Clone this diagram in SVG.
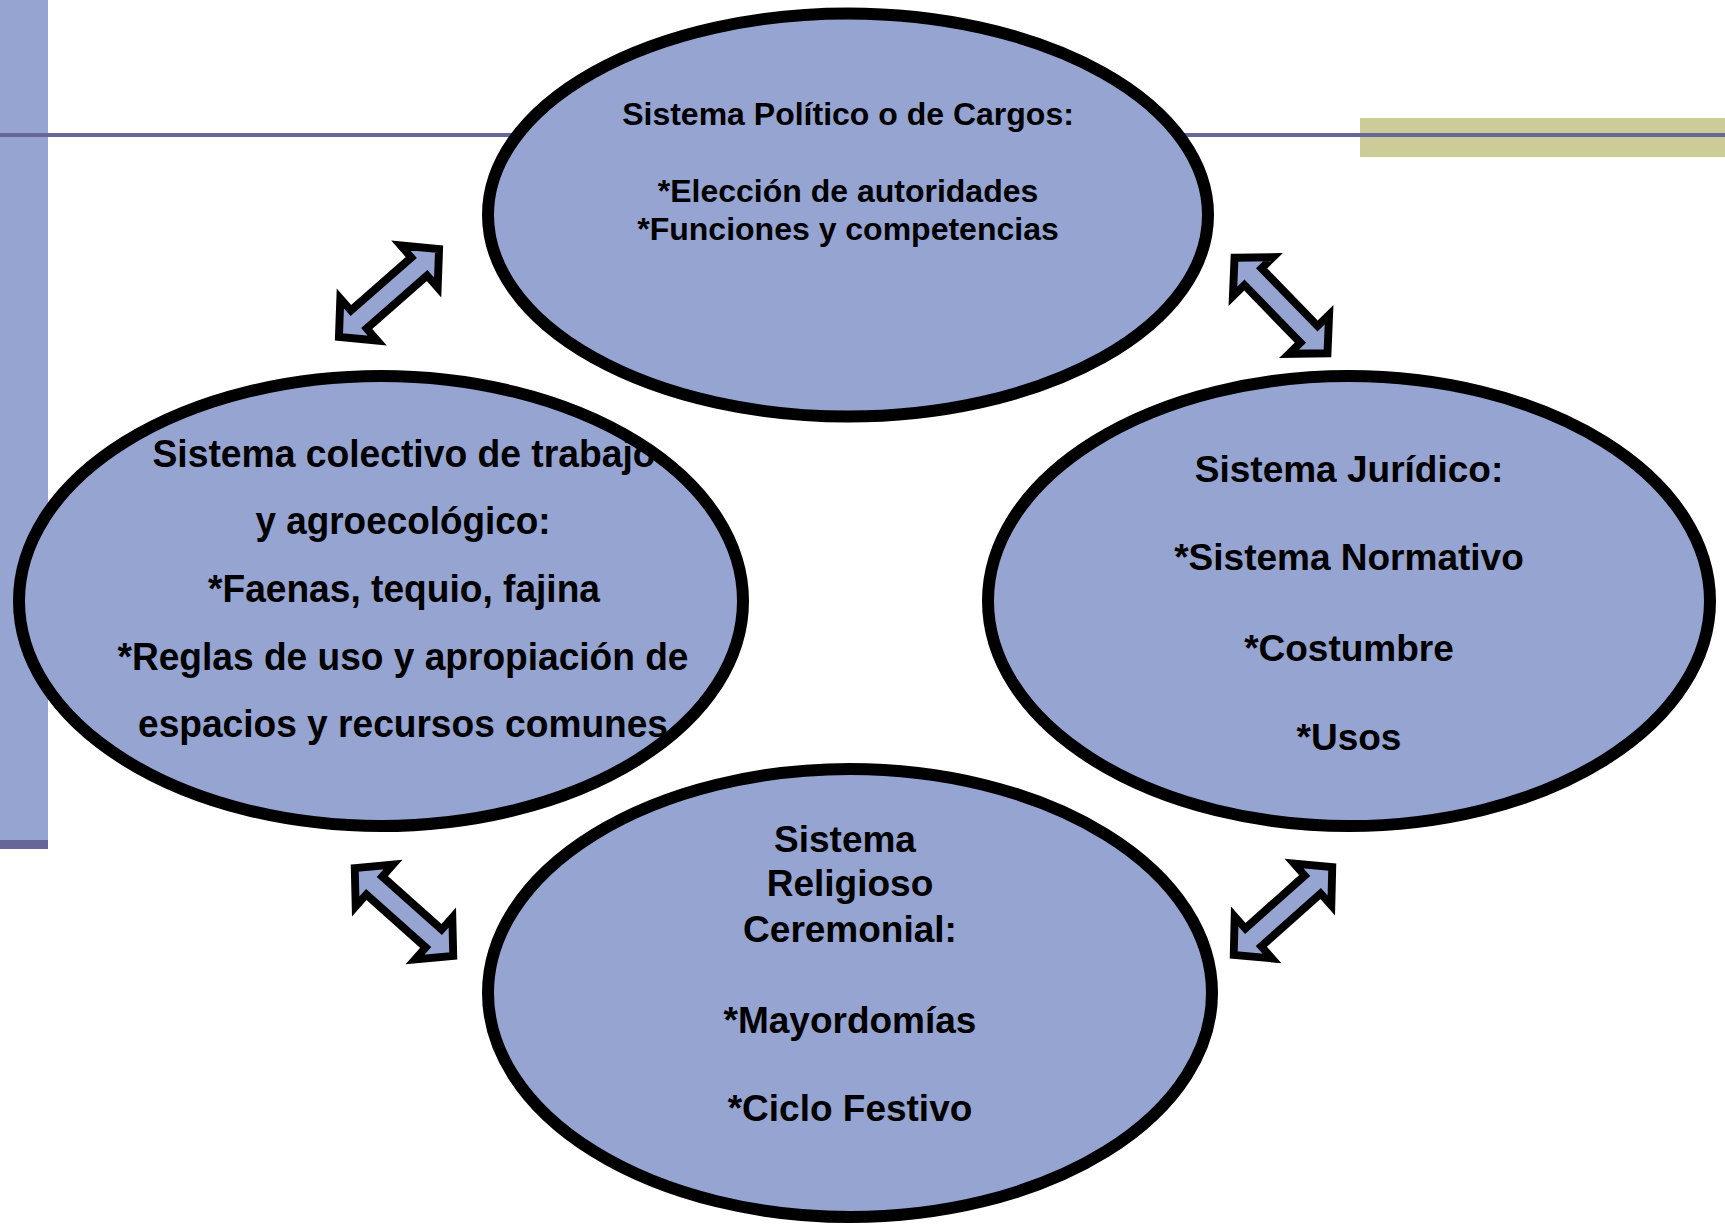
<svg xmlns="http://www.w3.org/2000/svg" xmlns:xlink="http://www.w3.org/1999/xlink" width="1725" height="1225" viewBox="0 0 1725 1225">
  <style>
    .fill { fill: #95A4D1; stroke: none; }
    .edge { fill: none; stroke: #000; stroke-width: 12; }
    .t { font-family: "Liberation Sans", Arial, sans-serif; font-weight: bold; fill: #000; text-anchor: middle; }
    .arrow { fill: #95A4D1; stroke: #000; stroke-width: 8; stroke-linejoin: miter; stroke-miterlimit: 4; }
  </style>
  <defs>
    <path id="dbl" d="M-68,0 L-41,-28 L-41,-12 L41,-12 L41,-28 L68,0 L41,28 L41,12 L-41,12 L-41,28 Z"/>
  </defs>
  <rect width="1725" height="1225" fill="#fff"/>
  <g id="background">
    <rect x="0" y="0" width="48" height="840" fill="#95A4D1"/>
    <rect x="0" y="840" width="48" height="9" fill="#666699"/>
    <rect x="1360" y="118" width="365" height="39" fill="#CCCC99"/>
    <rect x="0" y="133" width="1725" height="4" fill="#666699"/>
  </g>
  <g id="node-top">
    <ellipse class="fill" cx="848" cy="215" rx="360" ry="201.5"/>
    <ellipse class="edge" cx="848" cy="215" rx="360" ry="201.5"/>
    <text class="t" font-size="32" x="848" y="125">Sistema Político o de Cargos:</text>
    <text class="t" font-size="32" x="848" y="202">*Elección de autoridades</text>
    <text class="t" font-size="32" x="848" y="240">*Funciones y competencias</text>
  </g>
  <g id="node-left">
    <ellipse class="fill" cx="381" cy="601" rx="362" ry="225"/>
    <text class="t" font-size="38" x="404" y="467" textLength="503" lengthAdjust="spacingAndGlyphs">Sistema colectivo de trabajo</text>
    <text class="t" font-size="38" x="403" y="534" textLength="295" lengthAdjust="spacingAndGlyphs">y agroecológico:</text>
    <text class="t" font-size="38" x="404" y="602" textLength="392" lengthAdjust="spacingAndGlyphs">*Faenas, tequio, fajina</text>
    <text class="t" font-size="38" x="403" y="670" textLength="571" lengthAdjust="spacingAndGlyphs">*Reglas de uso y apropiación de</text>
    <text class="t" font-size="38" x="403" y="737" textLength="530" lengthAdjust="spacingAndGlyphs">espacios y recursos comunes</text>
    <ellipse class="edge" cx="381" cy="601" rx="362" ry="225"/>
  </g>
  <g id="node-right">
    <ellipse class="fill" cx="1349" cy="601" rx="361" ry="225"/>
    <ellipse class="edge" cx="1349" cy="601" rx="361" ry="225"/>
    <text class="t" font-size="37" x="1349" y="482">Sistema Jurídico:</text>
    <text class="t" font-size="37" x="1349" y="570">*Sistema Normativo</text>
    <text class="t" font-size="37" x="1349" y="661">*Costumbre</text>
    <text class="t" font-size="37" x="1349" y="750">*Usos</text>
  </g>
  <g id="node-bottom">
    <ellipse class="fill" cx="850" cy="993" rx="362" ry="224"/>
    <ellipse class="edge" cx="850" cy="993" rx="362" ry="224"/>
    <text class="t" font-size="37" x="845" y="852">Sistema</text>
    <text class="t" font-size="37" x="850" y="896">Religioso</text>
    <text class="t" font-size="37" x="850" y="942">Ceremonial:</text>
    <text class="t" font-size="37" x="850" y="1033">*Mayordomías</text>
    <text class="t" font-size="37" x="850" y="1121">*Ciclo Festivo</text>
  </g>
  <g id="connectors">
    <use xlink:href="#dbl" class="arrow" transform="translate(389,293) rotate(-41.3) scale(0.98,1)"/>
    <use xlink:href="#dbl" class="arrow" transform="translate(1281,305.5) rotate(45.8) scale(0.98,1)"/>
    <use xlink:href="#dbl" class="arrow" transform="translate(404,912) rotate(41.7) scale(0.97,1)"/>
    <use xlink:href="#dbl" class="arrow" transform="translate(1283,911) rotate(-41.7) scale(0.97,1)"/>
  </g>
</svg>
